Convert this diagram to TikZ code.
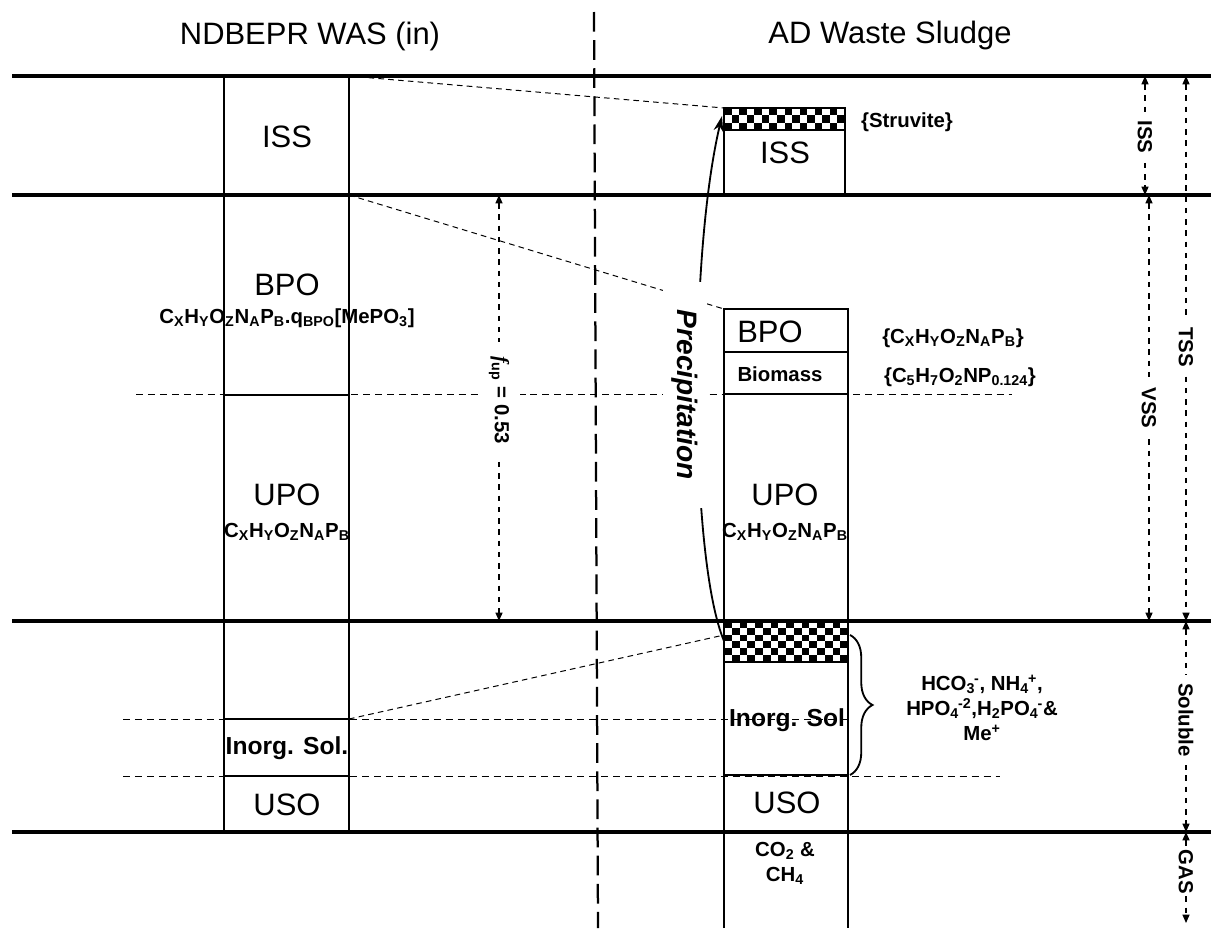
\documentclass[tikz,border=0pt]{standalone}
\usepackage{fontspec}
\setmainfont{Liberation Sans}
\newfontfamily\serifface{Liberation Serif}
\usetikzlibrary{arrows.meta, decorations.pathreplacing}

% sub- and superscript of an ion
\newcommand{\subsup}[2]{\textsubscript{#1}\kern-0.05em\textsuperscript{#2}}
\newcommand{\orgformula}{C\textsubscript{X}H\textsubscript{Y}O\textsubscript{Z}N\textsubscript{A}P\textsubscript{B}}
% checkered struvite layer: x0, y0, width, rows, row height
\newcommand{\checkered}[5]{%
  \foreach \ci in {0,...,15}{\foreach \cj in {1,...,#4}{%
    \ifodd\numexpr\ci+\cj\relax
      \fill (#1+\ci*#3/16,#2+\cj*#5-#5) rectangle ++(#3/16,#5);
    \fi}}
  \draw[line width=1pt] (#1,#2) rectangle ++(#3,#4*#5);}

\begin{document}
\begin{tikzpicture}[x=0.025cm, y=-0.025cm,
  big/.style={font=\fontsize{22}{26}\selectfont},
  lbl/.style={font=\bfseries\fontsize{14.5}{17.7}\selectfont, align=center},
  sol/.style={font=\bfseries\fontsize{17.5}{20}\selectfont},
  phase/.style={line width=2.8pt},
  wall/.style={line width=0.8pt},
  guide/.style={dash pattern=on 5pt off 3.5pt, line width=0.7pt},
  link/.style={dash pattern=on 4pt off 3pt, line width=0.7pt},
  dim/.style={{Triangle[width=5pt,length=6pt]}-{Triangle[width=5pt,length=6pt]},
    dash pattern=on 4pt off 4pt, line width=1pt},
  vlbl/.style={lbl, rotate=-90, fill=white, inner xsep=6pt, inner ysep=2pt}]
\useasboundingbox (0,0) rectangle (1211,928);

% guide lines between the two columns
\draw[guide] (136,394) -- (1012,394);
\draw[guide] (123,719) -- (848,719);
\draw[guide] (123,776) -- (1000,776);

% left column (WAS in)
\draw[wall] (224,76) -- (224,832) (349,76) -- (349,832);
\draw[wall] (224,395) -- (349,395) (224,719) -- (349,719) (224,776) -- (349,776);

% right column (AD sludge)
\draw[wall] (724,108) -- (724,195) (845,108) -- (845,195);
\draw[wall] (724,928) -- (724,309) -- (848,309) -- (848,928);
\draw[wall] (724,352) -- (848,352) (724,394) -- (848,394) (724,775) -- (848,775);
\checkered{724}{108}{121}{3}{7.33}
\checkered{724}{621}{124}{6}{6.83}

% divider
\draw[line width=1.6pt, dash pattern=on 14pt off 6pt] (594,12) -- (598,928);

% phase boundaries
\foreach \y/\n in {76/top, 195/vss, 621/sol, 832/gas}
  \draw[phase] (12,\y) coordinate (\n L) -- (1211,\y) coordinate (\n R);

% links between the columns
\coordinate (issA) at (349,76);  \coordinate (issB) at (724,108);
\coordinate (bpoA) at (349,195); \coordinate (bpoB) at (724,309);
\coordinate (inoA) at (349,719); \coordinate (inoB) at (724,635);
\draw[link] (issA) -- (issB);
\draw[link] (bpoA) -- (bpoB);
\draw[link] (inoA) -- (inoB);

% precipitation
\coordinate (pStart) at (724,641);
\coordinate (pEnd) at (722,116);
\draw[line width=1.3pt, -{Stealth[length=11pt,width=7pt]}]
  (pStart) .. controls (690,560) and (688,260) .. (pEnd);
\node[font=\bfseries\itshape\fontsize{20}{24}\selectfont, rotate=-90, fill=white,
  inner xsep=20pt, inner ysep=6pt] (precip) at (685,395) {Precipitation};

% fraction arrow
\coordinate (fupT) at (499,195); \coordinate (fupB) at (499,621);
\draw[dim] (fupT) -- (fupB);
\node[vlbl, inner xsep=10pt, inner ysep=8pt] (fup) at (499,400)
  {{\serifface\bfseries\itshape f}\textsubscript{up} = 0.53};

% right-hand measures
\draw[dim] (1145,76) -- (1145,195);  \node[vlbl] (mISS) at (1145,137) {ISS};
\draw[dim] (1149,195) -- (1149,621); \node[vlbl] (mVSS) at (1149,408) {VSS};
\draw[dim] (1186,76) -- (1186,621);  \node[vlbl] (mTSS) at (1186,347) {TSS};
\draw[dim] (1186,621) -- (1186,832); \node[vlbl] (mSol) at (1186,720) {Soluble};
\draw[dim] (1186,832) -- (1186,923); \node[vlbl, inner xsep=1pt] (mGas) at (1186,872) {GAS};

% headings
\node[big] (hdrL) at (310,36) {NDBEPR WAS (in)};
\node[big] (hdrR) at (890,36) {AD Waste Sludge};

% left labels
\node[big] (issL) at (287,137) {ISS};
\node[big] (bpoL) at (287,285) {BPO};
\node[lbl] (bpoLf) at (287,318) {\orgformula.q\textsubscript{BPO}[MePO\textsubscript{3}]};
\node[big] (upoL) at (287,495) {UPO};
\node[lbl] (upoLf) at (287,532) {\orgformula};
\node[sol] (inoL) at (287,748) {Inorg. Sol.};
\node[big] (usoL) at (287,805) {USO};

% right labels
\node[big] (issR) at (785,153) {ISS};
\node[lbl] (struv) at (907,122) {\{Struvite\}};
\node[big] (bpoR) at (770,332) {BPO};
\node[lbl] (bpoRf) at (953,338) {\{\orgformula\}};
\node[lbl] (bio) at (780,374) {Biomass};
\node[lbl] (biof) at (960,377) {\{C\textsubscript{5}H\textsubscript{7}O\textsubscript{2}NP\textsubscript{0.124}\}};
\node[big] (upoR) at (785,495) {UPO};
\node[lbl] (upoRf) at (785,532) {\orgformula};
\node[sol] (inoR) at (787,720) {Inorg. Sol};
\node[big] (usoR) at (787,803) {USO};
\node[lbl] (gas) at (785,863) {CO\textsubscript{2} \&\\CH\textsubscript{4}};

% soluble ions
\draw[decorate, decoration={brace, amplitude=16pt}, line width=1.3pt] (850,635) -- (850,775);
\node[lbl] (ions) at (982,708)
  {HCO\subsup{3}{-}, NH\subsup{4}{+},\\HPO\subsup{4}{-2},H\textsubscript{2}PO\subsup{4}{-}\&\\Me\textsuperscript{+}};
\end{tikzpicture}
\end{document}
